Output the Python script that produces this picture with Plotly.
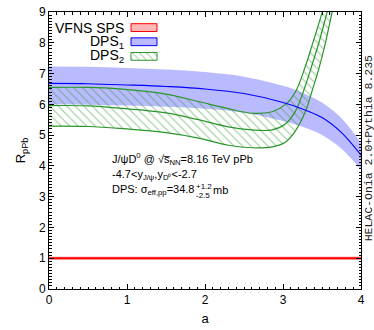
import plotly.graph_objects as go

# ---------------- data ----------------
# VFNS SPS (flat at 1)
a_sps = [0, 4]
sps_c = [1.0, 1.0]
sps_lo = [0.94, 0.94]
sps_hi = [1.06, 1.06]

# DPS1
a_dps1 = [0, 0.5, 1.0, 1.5, 2.0, 2.5, 3.0, 3.25, 3.5, 3.75, 4.0]
dps1_c = [6.68, 6.67, 6.63, 6.58, 6.50, 6.35, 6.06, 5.85, 5.57, 5.08, 4.35]
dps1_hi = [7.23, 7.22, 7.18, 7.13, 7.05, 6.90, 6.60, 6.38, 6.06, 5.55, 4.75]
dps1_lo = [6.00, 5.99, 5.96, 5.92, 5.86, 5.73, 5.46, 5.27, 5.00, 4.56, 3.88]

# DPS2
a_dps2 = [0, 0.5, 0.9, 1.5, 1.9, 2.3, 2.6, 2.86, 3.03, 3.16, 3.29, 3.37, 3.46, 3.54, 3.63, 3.72]
dps2_hi = [6.55, 6.55, 6.50, 6.33, 6.10, 5.86, 5.71, 5.76, 5.99, 6.41, 7.26, 7.90, 8.63, 9.30, 10.0, 10.8]
dps2_c = [5.96, 5.95, 5.88, 5.72, 5.51, 5.27, 5.17, 5.17, 5.36, 5.78, 6.63, 7.26, 8.00, 8.75, 9.60, 10.4]
dps2_lo = [5.29, 5.28, 5.22, 5.08, 4.91, 4.67, 4.59, 4.62, 4.77, 5.14, 5.78, 6.41, 7.16, 7.95, 9.00, 10.0]

x_ticks = [0, 1, 2, 3, 4]
y_ticks = [0, 1, 2, 3, 4, 5, 6, 7, 8, 9]

legend_labels = ["VFNS SPS", "DPS<sub>1</sub>", "DPS<sub>2</sub>"]

RED = "#ff0000"
BLUE = "#0000ff"
GREEN = "#2a962a"
BLUE_FILL = "rgba(0,0,255,0.27)"
RED_FILL = "rgba(255,0,0,0.28)"
HATCH = dict(shape="\\", fgcolor="rgba(42,150,42,1)", bgcolor="rgba(0,0,0,0)",
             size=6, solidity=0.18)

fig = go.Figure()

# DPS1 band
fig.add_trace(go.Scatter(x=a_dps1, y=dps1_lo, mode="lines", line=dict(width=0, shape="spline"),
                         showlegend=False, hoverinfo="skip"))
fig.add_trace(go.Scatter(x=a_dps1, y=dps1_hi, mode="lines", line=dict(width=0, shape="spline"),
                         fill="tonexty", fillcolor=BLUE_FILL, showlegend=False, hoverinfo="skip"))

# SPS band
fig.add_trace(go.Scatter(x=a_sps, y=sps_lo, mode="lines", line=dict(width=0),
                         showlegend=False, hoverinfo="skip"))
fig.add_trace(go.Scatter(x=a_sps, y=sps_hi, mode="lines", line=dict(width=0),
                         fill="tonexty", fillcolor=RED_FILL, showlegend=False, hoverinfo="skip"))
fig.add_trace(go.Scatter(x=a_sps, y=sps_c, mode="lines", line=dict(width=2, color=RED),
                         showlegend=False))

# DPS2 hatched band
fig.add_trace(go.Scatter(x=a_dps2, y=dps2_lo, mode="lines",
                         line=dict(width=1.2, color=GREEN, shape="spline"),
                         showlegend=False))
fig.add_trace(go.Scatter(x=a_dps2, y=dps2_hi, mode="lines",
                         line=dict(width=1.2, color=GREEN, shape="spline"),
                         fill="tonexty", fillcolor="rgba(0,0,0,0)", fillpattern=HATCH,
                         showlegend=False))
fig.add_trace(go.Scatter(x=a_dps2, y=dps2_c, mode="lines",
                         line=dict(width=1.2, color=GREEN, shape="spline"),
                         showlegend=False))

# DPS1 central line
fig.add_trace(go.Scatter(x=a_dps1, y=dps1_c, mode="lines",
                         line=dict(width=1.1, color=BLUE, shape="spline"),
                         showlegend=False))

# ---------- hand-made legend (text left, swatch right) on pixel overlay axes ----------
L, R, T, B = 49, 361, 5, 289
rows = [21, 35.5, 50.5]
sw_x0, sw_x1, sw_h = 131, 157, 8
swatch_styles = [
    dict(fillcolor=RED_FILL, line=dict(color=RED, width=1)),
    dict(fillcolor=BLUE_FILL, line=dict(color=BLUE, width=1)),
    dict(fillcolor="rgba(0,0,0,0)", fillpattern=dict(shape="\\", fgcolor="rgba(42,150,42,1)",
                                                      bgcolor="rgba(0,0,0,0)", size=5, solidity=0.18),
         line=dict(color=GREEN, width=1)),
]
for yc, st, lab in zip(rows, swatch_styles, legend_labels):
    fig.add_trace(go.Scatter(
        x=[sw_x0, sw_x1, sw_x1, sw_x0, sw_x0],
        y=[yc - sw_h / 2, yc - sw_h / 2, yc + sw_h / 2, yc + sw_h / 2, yc - sw_h / 2],
        mode="lines", fill="toself", xaxis="x2", yaxis="y2", showlegend=False,
        hoverinfo="skip", **st))
    fig.add_annotation(x=126, y=yc, xref="x2", yref="y2", text=lab, showarrow=False,
                       xanchor="right", yanchor="middle",
                       font=dict(family="Liberation Sans, Arial", size=14, color="black"))

TXT = dict(family="Liberation Sans, Arial", size=11, color="black")
SMALL = dict(family="Liberation Sans, Arial", size=8, color="black")
fig.add_annotation(x=110, y=156, xref="x2", yref="y2", showarrow=False, xanchor="left",
                   yanchor="middle", font=TXT,
                   text="J/ψD<sup>0</sup> @ √s\u0305<sub>NN</sub>=8.16 TeV pPb")
fig.add_annotation(x=110, y=172, xref="x2", yref="y2", showarrow=False, xanchor="left",
                   yanchor="middle", font=TXT,
                   text="-4.7<y<sub>J/ψ</sub>,y<sub>D⁰</sub><-2.7")
fig.add_annotation(x=110, y=188, xref="x2", yref="y2", showarrow=False, xanchor="left",
                   yanchor="middle", font=TXT,
                   text="DPS: σ<sub>eff,pp</sub>=34.8")
fig.add_annotation(x=194, y=184, xref="x2", yref="y2", showarrow=False, xanchor="left",
                   yanchor="middle", font=SMALL, text="+1.2")
fig.add_annotation(x=194, y=193, xref="x2", yref="y2", showarrow=False, xanchor="left",
                   yanchor="middle", font=SMALL, text="-2.5")
fig.add_annotation(x=211, y=188, xref="x2", yref="y2", showarrow=False, xanchor="left",
                   yanchor="middle", font=TXT, text="mb")

# right side label
fig.add_annotation(x=1.0235, y=0.509, xref="paper", yref="paper", showarrow=False,
                   textangle=-90, xanchor="center", yanchor="middle",
                   font=dict(family="Liberation Mono, Courier New", size=11.5, color="#222"),
                   text="HELAC-Onia 2.0+Pythia 8.235")

axis_common = dict(showline=True, linecolor="black", linewidth=1, mirror="allticks",
                   ticks="inside", ticklen=5, tickcolor="black", showgrid=False, zeroline=False,
                   ticklabeloverflow="allow",
                   tickfont=dict(family="Liberation Sans, Arial", size=12, color="black"))

fig.update_layout(
    width=374, height=330,
    margin=dict(l=L, r=374 - R, t=T, b=330 - B),
    paper_bgcolor="white", plot_bgcolor="white",
    showlegend=False,
    xaxis=dict(range=[0, 4], tickvals=x_ticks, ticktext=[str(v) for v in x_ticks],
               minor=dict(dtick=0.1, ticklen=2.5, ticks="inside", tickcolor="black"),
               title=dict(text="a", font=dict(family="Liberation Sans, Arial", size=13, color="black"),
                          standoff=7),
               **axis_common),
    yaxis=dict(range=[0, 9], tickvals=y_ticks, ticktext=[str(v) for v in y_ticks],
               minor=dict(dtick=0.1, ticklen=2.5, ticks="inside", tickcolor="black"),
               title=dict(text="R<sub>pPb</sub>", font=dict(family="Liberation Sans, Arial", size=13, color="black"),
                          standoff=10),
               **axis_common),
    xaxis2=dict(overlaying="x", range=[L, R], visible=False, fixedrange=True),
    yaxis2=dict(overlaying="y", range=[B, T], visible=False, fixedrange=True),
)

fig.write_html("out.html", config={"displayModeBar": False},
               post_script="document.body.style.margin='0';document.body.style.overflow='hidden';")
